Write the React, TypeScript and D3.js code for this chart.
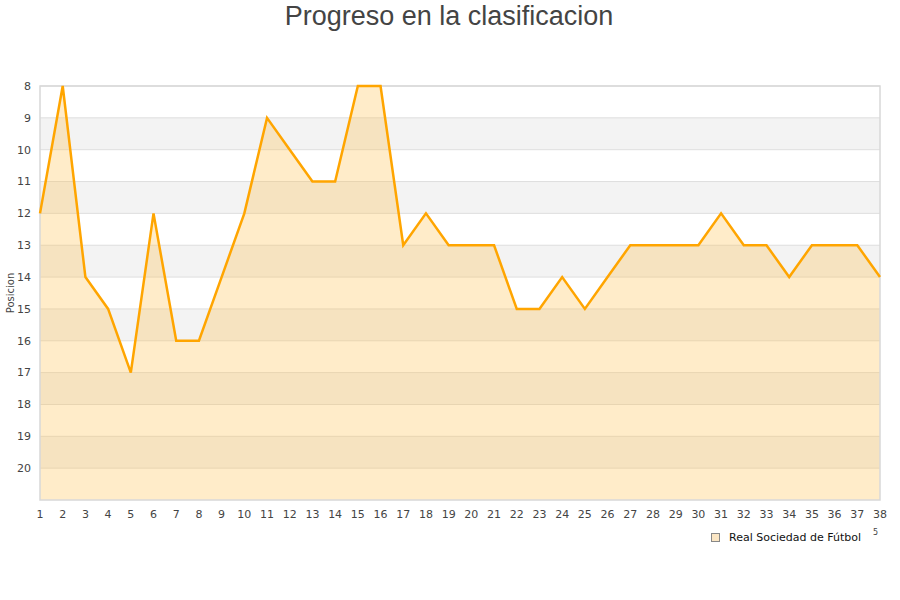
import { useEffect, useRef } from 'react';
import * as d3 from 'd3';

const jornadas = d3.range(1, 39);
const posiciones = [
  12, 8, 14, 15, 17, 12, 16, 16, 14, 12, 9, 10, 11, 11, 8, 8, 13, 12, 13, 13, 13, 15, 15, 14, 15, 14, 13, 13, 13,
  13, 12, 13, 13, 14, 13, 13, 13, 14,
];
const yTicks = [8, 9, 10, 11, 12, 13, 14, 15, 16, 17, 18, 19, 20];
const serieNombre = 'Real Sociedad de Fútbol';

export default function App() {
  const svgRef = useRef<SVGSVGElement>(null);

  useEffect(() => {
    if (!svgRef.current) return;
    const width = 900;
    const height = 600;
    const margin = { top: 86, right: 20, bottom: 100, left: 40 };
    const innerW = width - margin.left - margin.right;
    const innerH = height - margin.top - margin.bottom;

    const svg = d3.select(svgRef.current);
    svg.selectAll('*').remove();

    const x = d3.scaleLinear().domain([1, 38]).range([0, innerW]);
    const y = d3.scaleLinear().domain([8, 21]).range([0, innerH]);

    const g = svg.append('g').attr('transform', `translate(${margin.left},${margin.top})`);

    // alternating bands
    yTicks.forEach((t, i) => {
      g.append('rect')
        .attr('x', 0)
        .attr('y', y(t))
        .attr('width', innerW)
        .attr('height', y(t + 1) - y(t))
        .attr('fill', i % 2 === 0 ? '#ffffff' : '#f3f3f3');
    });

    // grid lines
    g.selectAll('.grid')
      .data(yTicks)
      .join('line')
      .attr('x1', 0)
      .attr('x2', innerW)
      .attr('y1', (d) => y(d))
      .attr('y2', (d) => y(d))
      .attr('stroke', '#dedede')
      .attr('stroke-width', 1);

    const pts = jornadas.map((j, i) => ({ j, p: posiciones[i] }));

    const area = d3
      .area<{ j: number; p: number }>()
      .x((d) => x(d.j))
      .y0(innerH)
      .y1((d) => y(d.p));

    g.append('path').datum(pts).attr('d', area).attr('fill', '#ffc04d').attr('fill-opacity', 0.3);

    // frame
    g.append('rect')
      .attr('x', 0)
      .attr('y', 0)
      .attr('width', innerW)
      .attr('height', innerH)
      .attr('fill', 'none')
      .attr('stroke', '#d8d8d8')
      .attr('stroke-width', 1.5);

    const line = d3
      .line<{ j: number; p: number }>()
      .x((d) => x(d.j))
      .y((d) => y(d.p));

    g.append('path')
      .datum(pts)
      .attr('d', line)
      .attr('fill', 'none')
      .attr('stroke', '#ffa500')
      .attr('stroke-width', 2.5)
      .attr('stroke-linejoin', 'miter');

    const font = 'DejaVu Sans, sans-serif';

    // y tick labels
    g.selectAll('.ytl')
      .data(yTicks)
      .join('text')
      .attr('x', -9)
      .attr('y', (d) => y(d))
      .attr('dy', '0.35em')
      .attr('text-anchor', 'end')
      .style('font-family', font)
      .style('font-size', '11px')
      .style('fill', '#444')
      .text((d) => d);

    // x tick labels
    g.selectAll('.xtl')
      .data(jornadas)
      .join('text')
      .attr('x', (d) => x(d))
      .attr('y', innerH + 18)
      .attr('text-anchor', 'middle')
      .style('font-family', font)
      .style('font-size', '11px')
      .style('fill', '#444')
      .text((d) => d);

    // y axis title
    svg
      .append('text')
      .attr('transform', `translate(14,${margin.top + y(14.5)}) rotate(-90)`)
      .attr('text-anchor', 'middle')
      .style('font-family', font)
      .style('font-size', '10px')
      .style('fill', '#444')
      .text('Posicion');

    // title
    svg
      .append('text')
      .attr('x', 449)
      .attr('y', 25)
      .attr('text-anchor', 'middle')
      .style('font-family', 'Liberation Sans, Arial, sans-serif')
      .style('font-size', '27px')
      .style('fill', '#444')
      .text('Progreso en la clasificacion');

    // legend
    svg
      .append('rect')
      .attr('x', 711.5)
      .attr('y', 533.5)
      .attr('width', 8)
      .attr('height', 8)
      .attr('fill', '#fbe6c4')
      .attr('stroke', '#888')
      .attr('stroke-width', 1);
    svg
      .append('text')
      .attr('x', 729)
      .attr('y', 541)
      .style('font-family', font)
      .style('font-size', '11px')
      .style('fill', '#111')
      .text(serieNombre);
    svg
      .append('text')
      .attr('x', 873)
      .attr('y', 535)
      .style('font-family', font)
      .style('font-size', '8px')
      .style('fill', '#444')
      .text('5');
  }, []);

  return (
    <svg
      ref={svgRef}
      width={900}
      height={600}
      style={{ display: 'block', position: 'absolute', left: 0, top: 0 }}
    ></svg>
  );
}
